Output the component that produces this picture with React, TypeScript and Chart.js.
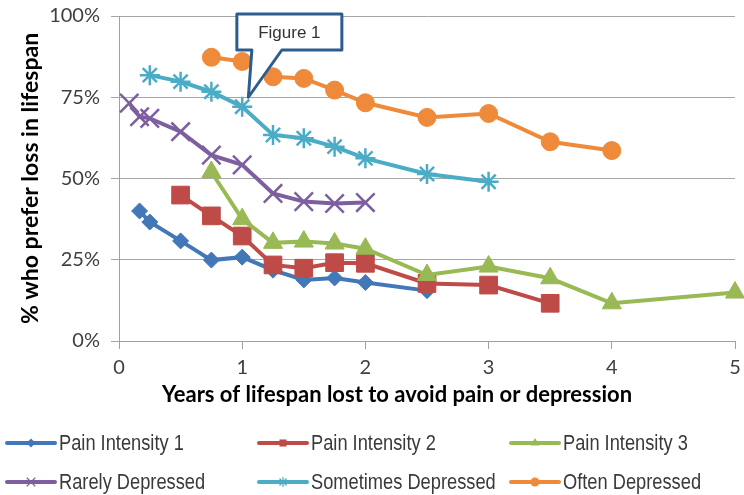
import React, { useEffect, useRef } from "react";
import { Chart, registerables } from "chart.js";

Chart.register(...registerables);

// ---- data ----
const seriesNames = [
  "Pain Intensity 1",
  "Pain Intensity 2",
  "Pain Intensity 3",
  "Rarely Depressed",
  "Sometimes Depressed",
  "Often Depressed",
];

const yearsPain1 = [0.167, 0.25, 0.5, 0.75, 1, 1.25, 1.5, 1.75, 2, 2.5];
const pain1 = [40, 36.6, 30.8, 24.9, 25.8, 21.8, 18.8, 19.4, 18, 15.5];

const yearsPain2 = [0.5, 0.75, 1, 1.25, 1.5, 1.75, 2, 2.5, 3, 3.5];
const pain2 = [44.9, 38.5, 32.3, 23.4, 22.4, 24.1, 23.9, 17.7, 17.2, 11.6];

const yearsPain3 = [0.75, 1, 1.25, 1.5, 1.75, 2, 2.5, 3, 3.5, 4, 5];
const pain3 = [52, 37.5, 30.2, 30.6, 30, 28.4, 20.3, 22.9, 19.3, 11.6, 14.9];

const yearsRarely = [0.083, 0.167, 0.25, 0.5, 0.75, 1, 1.25, 1.5, 1.75, 2];
const rarely = [73.2, 69, 68.5, 64.4, 57.2, 54.2, 45.4, 42.9, 42.3, 42.6];

const yearsSometimes = [0.25, 0.5, 0.75, 1, 1.25, 1.5, 1.75, 2, 2.5, 3];
const sometimes = [81.8, 79.8, 76.7, 72.1, 63.4, 62.4, 59.8, 56.2, 51.4, 49];

const yearsOften = [0.75, 1, 1.25, 1.5, 1.75, 2, 2.5, 3, 3.5, 4];
const often = [87.3, 86, 81.3, 80.8, 77.2, 73.3, 68.8, 70, 61.3, 58.6];

const xTickValues = [0, 1, 2, 3, 4, 5];
const yTickValues = [0, 25, 50, 75, 100];

const calloutText = "Figure 1";
const calloutTip = [1.05, 75];

const xTitle = "Years of lifespan lost to avoid pain or depression";
const yTitle = "% who prefer loss in lifespan";

// ---- styles ----
const seriesColors = ["#4277B8", "#BE4B48", "#98B954", "#7D5FA0", "#4BACC6", "#EE8A3A"];
const seriesMarkers = ["rectRot", "rect", "triangle", "crossRot", "star", "circle"];
const markerRadius = [8, 12.5, 11, 13, 10, 9];
const markerBorder = [1, 1, 1, 2.5, 2.5, 1];

const xs = [yearsPain1, yearsPain2, yearsPain3, yearsRarely, yearsSometimes, yearsOften];
const ys = [pain1, pain2, pain3, rarely, sometimes, often];

function drawMarker(ctx: CanvasRenderingContext2D, style: string, x: number, y: number, r: number, color: string, lw: number) {
  ctx.save();
  ctx.fillStyle = color;
  ctx.strokeStyle = color;
  ctx.lineWidth = lw;
  ctx.beginPath();
  const d = r * Math.SQRT1_2;
  switch (style) {
    case "rectRot":
      ctx.moveTo(x - r, y);
      ctx.lineTo(x, y - r);
      ctx.lineTo(x + r, y);
      ctx.lineTo(x, y + r);
      ctx.closePath();
      ctx.fill();
      break;
    case "rect":
      ctx.rect(x - d, y - d, 2 * d, 2 * d);
      ctx.fill();
      break;
    case "triangle":
      ctx.moveTo(x, y - r);
      ctx.lineTo(x + r * 0.866, y + r * 0.5);
      ctx.lineTo(x - r * 0.866, y + r * 0.5);
      ctx.closePath();
      ctx.fill();
      break;
    case "crossRot":
      ctx.moveTo(x - d, y - d);
      ctx.lineTo(x + d, y + d);
      ctx.moveTo(x - d, y + d);
      ctx.lineTo(x + d, y - d);
      ctx.stroke();
      break;
    case "star":
      ctx.moveTo(x - d, y - d);
      ctx.lineTo(x + d, y + d);
      ctx.moveTo(x - d, y + d);
      ctx.lineTo(x + d, y - d);
      ctx.moveTo(x, y - r);
      ctx.lineTo(x, y + r);
      ctx.stroke();
      break;
    default:
      ctx.arc(x, y, r, 0, Math.PI * 2);
      ctx.fill();
  }
  ctx.restore();
}

const legendPlugin = {
  id: "gridLegend",
  afterDraw(chart: any) {
    const ctx: CanvasRenderingContext2D = chart.ctx;
    const area = chart.chartArea;

    // x axis title (offset left of the plot centre, as in the reference)
    ctx.save();
    ctx.font = "bold 22px Lato";
    ctx.fillStyle = "#000000";
    ctx.textAlign = "center";
    ctx.textBaseline = "middle";
    ctx.fillText(xTitle, (area.left + area.right) / 2 - 30, area.bottom + 54);
    ctx.restore();

    const colW = 252;
    const rowY0 = area.bottom + 102;
    const rowH = 39;
    seriesNames.forEach((name, i) => {
      const col = i % 3;
      const row = Math.floor(i / 3);
      const x0 = 7 + col * colW;
      const y0 = rowY0 + row * rowH;
      ctx.save();
      ctx.strokeStyle = seriesColors[i];
      ctx.lineWidth = 4;
      ctx.lineCap = "round";
      ctx.beginPath();
      ctx.moveTo(x0, y0);
      ctx.lineTo(x0 + 48, y0);
      ctx.stroke();
      ctx.restore();
      const small = [4.5, 5, 5, 6, 5, 4.5][i];
      drawMarker(ctx, seriesMarkers[i], x0 + 24, y0, small, seriesColors[i], 1.2);
      ctx.save();
      ctx.translate(x0 + 52, y0);
      ctx.scale(0.83, 1);
      ctx.font = "22px 'Liberation Sans', Arial, sans-serif";
      ctx.fillStyle = "#3a3a3a";
      ctx.textBaseline = "middle";
      ctx.textAlign = "left";
      ctx.fillText(name, 0, 1);
      ctx.restore();
    });
  },
};

const calloutPlugin = {
  id: "callout",
  afterDatasetsDraw(chart: any) {
    const ctx: CanvasRenderingContext2D = chart.ctx;
    const { x, y } = chart.scales;
    const tx = x.getPixelForValue(calloutTip[0]);
    const ty = y.getPixelForValue(calloutTip[1]);
    const left = tx - 11.5;
    const right = tx + 93.5;
    const top = chart.chartArea.top - 2;
    const bottom = top + 36;
    ctx.save();
    ctx.beginPath();
    ctx.moveTo(left, top);
    ctx.lineTo(right, top);
    ctx.lineTo(right, bottom);
    ctx.lineTo(tx + 33.5, bottom);
    ctx.lineTo(tx, ty);
    ctx.lineTo(tx + 3.5, bottom);
    ctx.lineTo(left, bottom);
    ctx.closePath();
    ctx.fillStyle = "#ffffff";
    ctx.fill();
    ctx.lineWidth = 3;
    ctx.lineJoin = "round";
    ctx.strokeStyle = "#2D5C8E";
    ctx.stroke();
    ctx.font = "17px 'Liberation Sans', Arial, sans-serif";
    ctx.fillStyle = "#333333";
    ctx.textAlign = "center";
    ctx.textBaseline = "middle";
    ctx.fillText(calloutText, (left + right) / 2, (top + bottom) / 2 + 1);
    ctx.restore();
  },
};

export default function App() {
  const ref = useRef<HTMLCanvasElement | null>(null);

  useEffect(() => {
    if (!ref.current) return;
    const datasets = seriesNames.map((name, i) => ({
      label: name,
      data: xs[i].map((xv, j) => ({ x: xv, y: ys[i][j] })),
      borderColor: seriesColors[i],
      backgroundColor: seriesColors[i],
      borderWidth: 4,
      pointStyle: seriesMarkers[i],
      pointRadius: markerRadius[i],
      pointHoverRadius: markerRadius[i],
      pointBorderWidth: markerBorder[i],
      pointBackgroundColor: seriesColors[i],
      pointBorderColor: seriesColors[i],
      tension: 0,
      clip: false as any,
      order: seriesNames.length - i,
    }));

    const chart = new Chart(ref.current, {
      type: "line",
      data: { datasets },
      plugins: [calloutPlugin, legendPlugin],
      options: {
        animation: false,
        responsive: false,
        layout: { autoPadding: false, padding: { left: 17, top: 16, right: 9, bottom: 90 } },
        plugins: { legend: { display: false }, tooltip: { enabled: false } },
        scales: {
          x: {
            type: "linear",
            min: 0,
            max: 5,
            afterBuildTicks: (s: any) => {
              s.ticks = xTickValues.map((v) => ({ value: v }));
            },
            afterFit: (s: any) => {
              s.height = 64;
              s.paddingLeft = 0;
              s.paddingRight = 0;
            },
            ticks: {
              font: { family: "Lato", size: 20 },
              color: "#404040",
              padding: 7,
            },
            grid: {
              drawOnChartArea: false,
              drawTicks: true,
              tickLength: 8,
              color: "#a0a0a0",
            },
            border: { color: "#a0a0a0", width: 1 },
            title: { display: false },
          },
          y: {
            type: "linear",
            min: 0,
            max: 100,
            afterBuildTicks: (s: any) => {
              s.ticks = yTickValues.map((v) => ({ value: v }));
            },
            afterFit: (s: any) => {
              s.width = 102;
              s.paddingTop = 0;
              s.paddingBottom = 0;
            },
            ticks: {
              font: { family: "Lato", size: 20 },
              color: "#404040",
              padding: 11,
              callback: (v: any) => v + "%",
            },
            grid: {
              color: "#a6a6a6",
              drawTicks: true,
              tickLength: 8,
            },
            border: { color: "#a0a0a0", width: 1 },
            title: {
              display: true,
              text: yTitle,
              font: { family: "Lato", size: 23, weight: "bold" },
              color: "#000000",
              padding: { top: 0, bottom: 0 },
            },
          },
        },
      },
    });
    return () => chart.destroy();
  }, []);

  return (
    <div style={{ position: "fixed", left: 0, top: 0, width: 744, height: 495, background: "#ffffff" }}>
      <canvas ref={ref} width={744} height={495} style={{ display: "block" }} />
    </div>
  );
}
